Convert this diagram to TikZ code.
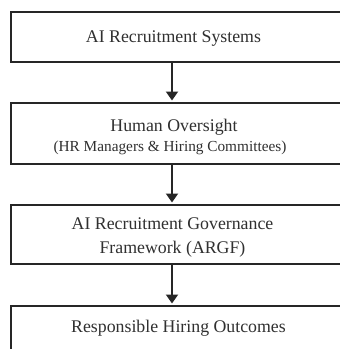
\documentclass[tikz,border=0pt]{standalone}
\usepackage{fontspec}
\setmainfont{Liberation Serif}
\usetikzlibrary{arrows.meta}
\definecolor{linec}{HTML}{262626}
\definecolor{textc}{HTML}{303030}
\begin{document}
\begin{tikzpicture}[x=1pt,y=-1pt,
  flowbox/.style={draw=linec,line width=1.9pt,rectangle,minimum width=350pt,anchor=north west,inner sep=0pt},
  maintext/.style={anchor=base,inner sep=0pt,text=textc,font=\fontsize{17.8}{20}\selectfont},
  subtext/.style={anchor=base,inner sep=0pt,text=textc,font=\fontsize{15.3}{18}\selectfont},
  flowarrow/.style={draw=linec,line width=1.9pt,-{Triangle[width=12pt,length=9pt]},shorten >=1.5pt}]
\useasboundingbox (0,0) rectangle (340,349);
\clip (0,0) rectangle (340,349);
\fill[white] (0,0) rectangle (340,349);
\node[flowbox,minimum height=50pt] (b1) at (10,11) {};
\node[flowbox,minimum height=61pt] (b2) at (10,102) {};
\node[flowbox,minimum height=59pt] (b3) at (10,204) {};
\node[flowbox,minimum height=60pt] (b4) at (10,305) {};
\node[maintext] (t1) at (173.5,42.7) {AI Recruitment Systems};
\node[maintext] (t2) at (174,131) {Human Oversight};
\node[subtext] (t2b) at (170,151.7) {(HR Managers \& Hiring Committees)};
\node[maintext] (t3) at (172.5,229) {AI Recruitment Governance};
\node[maintext] (t3b) at (172.5,253) {Framework (ARGF)};
\node[maintext] (t4) at (178.5,332.7) {Responsible Hiring Outcomes};
\coordinate (a1s) at (172,61);
\coordinate (a1e) at (172,102);
\coordinate (a2s) at (172,163);
\coordinate (a2e) at (172,204);
\coordinate (a3s) at (172,263);
\coordinate (a3e) at (172,305);
\draw[flowarrow] (a1s) -- (a1e);
\draw[flowarrow] (a2s) -- (a2e);
\draw[flowarrow] (a3s) -- (a3e);
\end{tikzpicture}
\end{document}
